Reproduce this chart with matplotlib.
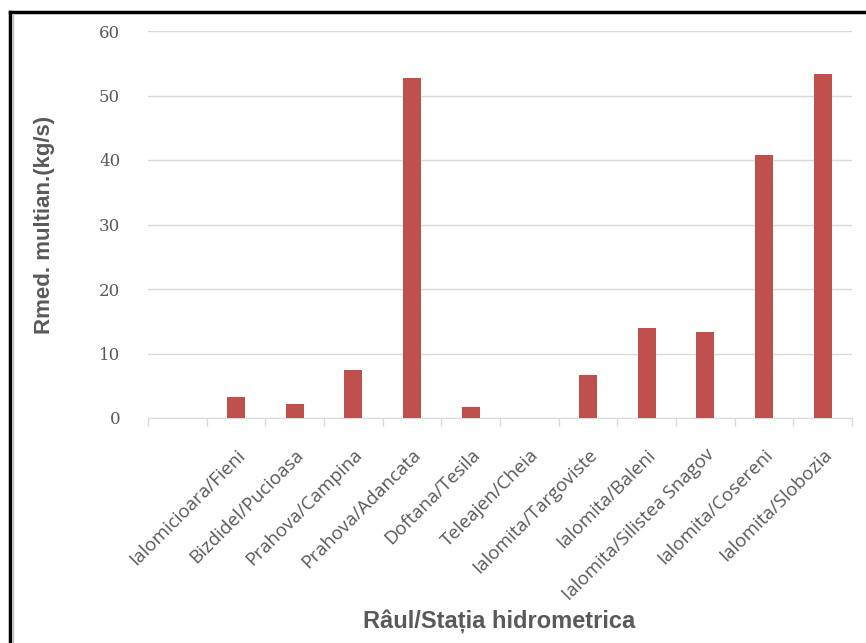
import numpy as np
import matplotlib
matplotlib.use('Agg')
import matplotlib.pyplot as plt
from matplotlib.lines import Line2D

# stations (first slot of the category axis is left empty)
stations = ['', 'Ialomicioara/Fieni', 'Bizdidel/Pucioasa', 'Prahova/Campina',
            'Prahova/Adancata', 'Doftana/Tesila', 'Teleajen/Cheia',
            'Ialomita/Targoviste', 'Ialomita/Baleni', 'Ialomita/Silistea Snagov',
            'Ialomita/Cosereni', 'Ialomita/Slobozia']
# mean multiannual sediment discharge, kg/s
rmed = [0, 3.3, 2.2, 7.4, 52.7, 1.7, 0, 6.7, 14.0, 13.3, 40.8, 53.3]
yticks = [0, 10, 20, 30, 40, 50, 60]

bar_color = '#C0504D'
text_grey = '#595959'

fig = plt.figure(figsize=(8.66, 6.43), dpi=100)
ax = fig.add_axes([148/866, 1-418/643, (852-148)/866, (418-31)/643])

x = np.arange(len(stations))
ax.bar(x, rmed, width=0.31, color=bar_color, zorder=3)

ax.set_xlim(-0.5, len(stations)-0.5)
ax.set_ylim(0, 60)
ax.set_yticks(yticks)
ax.set_yticklabels([str(v) for v in yticks], family='DejaVu Serif',
                   fontsize=12, color=text_grey)
ax.tick_params(axis='y', length=0, pad=20)
ax.grid(axis='y', color='#D9D9D9', linewidth=1, zorder=0)

ax.set_xticks(x)
ax.set_xticklabels(stations, rotation=45, ha='right', va='top',
                   rotation_mode='anchor', family='Open Sans',
                   fontsize=13.5, color=text_grey)
ax.tick_params(axis='x', length=0, pad=20)
ax.set_xticks(np.arange(-0.5, len(stations)), minor=True)
ax.tick_params(axis='x', which='minor', length=6, color='#D9D9D9', width=1)

for side in ['top', 'right', 'left']:
    ax.spines[side].set_visible(False)
ax.spines['bottom'].set_color('#D9D9D9')

fig.text(45/866, 1-225/643, 'Rmed. multian.(kg/s)', rotation=90,
         ha='center', va='center', fontsize=16, fontweight='bold',
         family='Liberation Sans', color=text_grey)
fig.text(499/866, 1-622/643, 'Râul/Stația hidrometrica', ha='center',
         va='center', fontsize=17, fontweight='bold',
         family='Liberation Sans', color=text_grey)

# outer frame lines on top and left
fig.add_artist(Line2D([10/866, 1], [1-12/643, 1-12/643], color='black', linewidth=2.5,
                      transform=fig.transFigure))
fig.add_artist(Line2D([10/866, 10/866], [0, 1-12/643], color='black', linewidth=2.5,
                      transform=fig.transFigure))
fig.add_artist(Line2D([13/866, 13/866], [0, 1-14/643], color='#BFBFBF', linewidth=1,
                      transform=fig.transFigure))

fig.savefig('out.png', dpi=100)
